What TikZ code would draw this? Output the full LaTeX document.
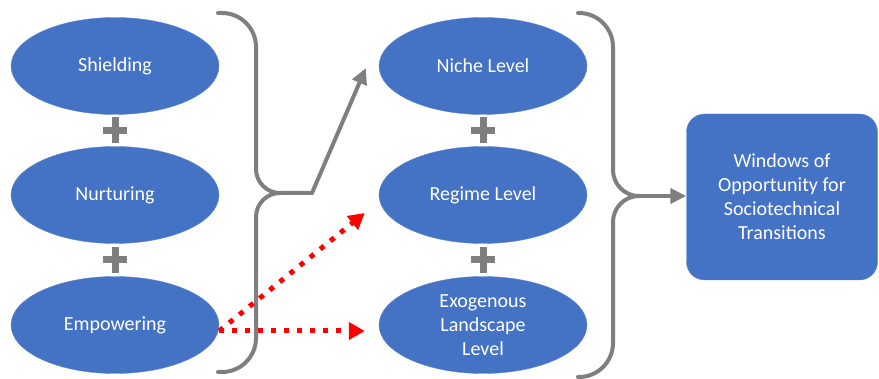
\documentclass[tikz,border=0pt]{standalone}
\usepackage{fontspec}
\setsansfont{Carlito}
\usepackage{tikz}
\usetikzlibrary{positioning,arrows.meta,shapes.geometric,backgrounds,calc}
\definecolor{nodeblue}{HTML}{4472C4}
\definecolor{bracegrey}{HTML}{7F7F7F}

\begin{document}
\begin{tikzpicture}[
  font=\sffamily\fontsize{20}{24}\selectfont,
  stage/.style = {ellipse, fill=nodeblue, draw=nodeblue!85!white, text=white,
                  align=center, minimum width=208pt, minimum height=97pt, inner sep=0pt},
  win/.style   = {rectangle, rounded corners=18pt, fill=nodeblue, draw=nodeblue!85!white,
                  text=white, align=center, minimum width=191pt, minimum height=166pt},
  brc/.style   = {draw=bracegrey, line width=4pt, line cap=round, line join=round},
  fl/.style    = {brc, -{Triangle[length=16pt,width=15pt]}},
  rfl/.style   = {draw=red, line width=5pt, dash pattern=on 5pt off 8pt,
                  -{Triangle[length=16pt,width=17pt]}},
  pls/.style   = {draw=bracegrey, line width=7pt},
]
\useasboundingbox (0pt,0pt) rectangle (879pt,-379pt);

% ================= niche strategies =====================================
\node[stage] (shield) at (115pt,-66pt)  {Shielding};
\node[stage] (nurt)   at (115pt,-195pt) {Nurturing};
\node[stage] (empo)   at (115pt,-325pt) {Empowering};

% ================= levels ===============================================
\node[stage] (niche)  at (483pt,-66pt)  {Niche Level};
\node[stage] (regime) at (483pt,-195pt) {Regime Level};
\node[stage] (exo)    at (483pt,-325pt) {Exogenous\\Landscape\\Level};

\node[win] (window) at (782pt,-197pt)
  {Windows of\\Opportunity for\\Sociotechnical\\Transitions};

% plus signs behind the ellipses
\begin{scope}[on background layer]
\foreach \a/\b in {shield/nurt, nurt/empo, niche/regime, regime/exo} {
  \coordinate (p) at ($(\a.south)!0.5!(\b.north)$);
  \draw[pls] ([xshift=-12pt]p) -- ([xshift=12pt]p) ([yshift=-13pt]p) -- ([yshift=13pt]p);
}
\end{scope}

% ================= braces ===============================================
\coordinate (ltip) at (312pt,-193pt);
\draw[brc] (218pt,-13pt) [rounded corners=34pt] -- (256pt,-13pt)
  [rounded corners=24pt] -- (256pt,-193pt) -- (ltip);
\draw[brc] (218pt,-372pt) [rounded corners=34pt] -- (256pt,-372pt)
  [rounded corners=24pt] -- (256pt,-193pt) -- (280pt,-193pt);

\coordinate (rtip) at (640pt,-196pt);
\draw[brc] (578pt,-13pt) [rounded corners=34pt] -- (613pt,-13pt)
  [rounded corners=26pt] -- (613pt,-196pt) -- (rtip);
\draw[brc] (578pt,-377pt) [rounded corners=34pt] -- (613pt,-377pt)
  [rounded corners=26pt] -- (613pt,-196pt) -- (rtip);

% ================= edges ================================================
\draw[fl] (ltip) -- ([shift={(-13pt,-2pt)}]niche.west);
\draw[fl] (rtip) -- (rtip -| window.west);
\draw[rfl] ([yshift=-6pt]empo.east) -- ([shift={(-14pt,-18pt)}]regime.west);
\draw[rfl] ([yshift=-6pt]empo.east) -- ([shift={(-14pt,-6pt)}]exo.west);

\end{tikzpicture}
\end{document}
